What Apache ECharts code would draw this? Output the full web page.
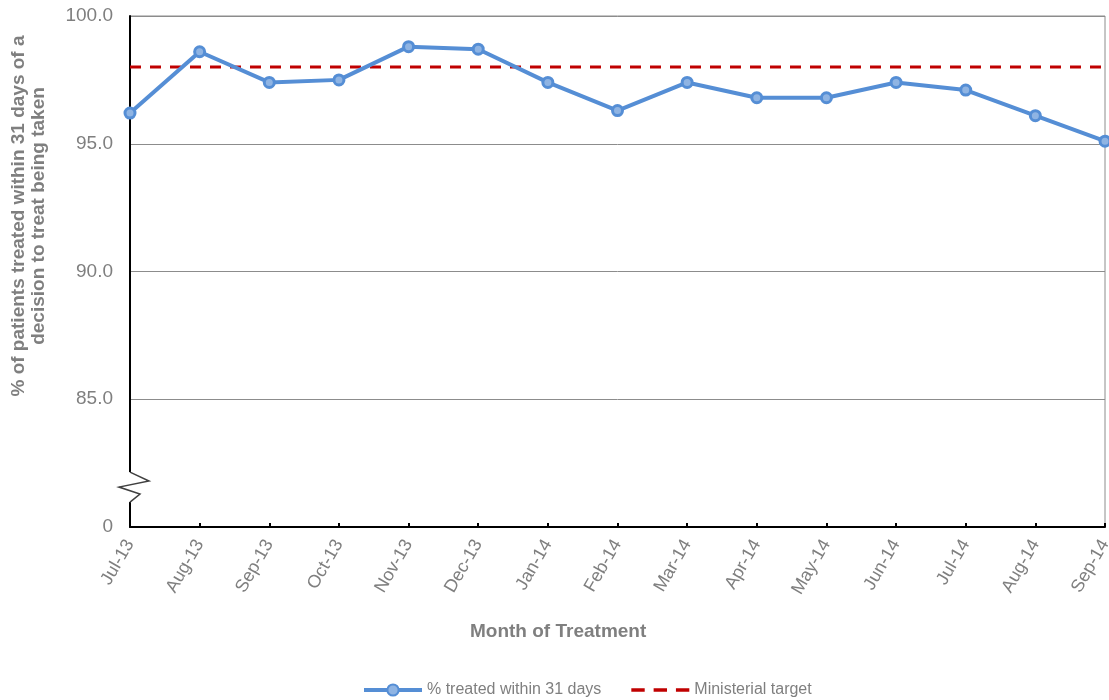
<!DOCTYPE html>
<html>
<head>
<meta charset="utf-8">
<script src="https://cdn.jsdelivr.net/npm/echarts@6/dist/echarts.min.js"></script>
<style>html,body{margin:0;padding:0;background:#fff;}#c{width:1109px;height:700px;}</style>
</head>
<body>
<div id="c"></div>
<script>
const months = ['Jul-13','Aug-13','Sep-13','Oct-13','Nov-13','Dec-13','Jan-14','Feb-14','Mar-14','Apr-14','May-14','Jun-14','Jul-14','Aug-14','Sep-14'];
const treated = [96.2, 98.6, 97.4, 97.5, 98.8, 98.7, 97.4, 96.3, 97.4, 96.8, 96.8, 97.4, 97.1, 96.1, 95.1];
const target = [98, 98, 98, 98, 98, 98, 98, 98, 98, 98, 98, 98, 98, 98, 98];
const yMin = 80, yMax = 100, yStep = 5;
const FONT = '"Liberation Sans", Arial, sans-serif';
const GRAY = '#7f7f7f';

const chart = echarts.init(document.getElementById('c'));
chart.setOption({
  animation: false,
  backgroundColor: '#fff',
  grid: {left: 130, right: 4, top: 16, bottom: 173, show: true, borderColor: '#8c8c8c', borderWidth: 1,
    containLabel: false, outerBoundsMode: 'none'},
  legend: {
    top: 682, left: 362, padding: 0, itemGap: 30, itemWidth: 58, itemHeight: 14,
    textStyle: {color: GRAY, fontFamily: FONT, fontSize: 16},
    data: [
      {name: '% treated within 31 days', lineStyle: {width: 4, color: '#558ed5'}},
      {name: 'Ministerial target', icon: 'path://M0,0h12v3h-12z M20,0h12v3h-12z M40,0h12v3h-12z', itemStyle: {color: '#c00000'}}
    ]
  },
  xAxis: {
    type: 'category', data: months, boundaryGap: false,
    axisLine: {lineStyle: {color: '#000', width: 2}},
    axisTick: {inside: true, length: 4, lineStyle: {color: '#000', width: 2}},
    axisLabel: {rotate: 60, color: GRAY, fontFamily: FONT, fontSize: 18, margin: 14, interval: 0},
    splitLine: {show: false}
  },
  yAxis: {
    type: 'value', min: yMin, max: yMax, interval: yStep,
    axisLine: {show: true, lineStyle: {color: '#000', width: 2}},
    axisTick: {show: false},
    axisLabel: {color: GRAY, fontFamily: FONT, fontSize: 19, margin: 17,
      formatter: v => v === yMin ? '0' : v.toFixed(1)},
    splitLine: {lineStyle: {color: '#8c8c8c', width: 1}}
  },
  series: [
    {name: '% treated within 31 days', type: 'line', data: treated,
      symbol: 'circle', symbolSize: 10,
      lineStyle: {color: '#558ed5', width: 4},
      itemStyle: {color: '#8fb4e3', borderColor: '#558ed5', borderWidth: 3},
      z: 3},
    {name: 'Ministerial target', type: 'line', data: target,
      symbol: 'none', showSymbol: false,
      lineStyle: {color: '#c00000', width: 3, type: [11, 9]},
      itemStyle: {color: '#c00000'},
      z: 2}
  ]
});

const x0 = chart.convertToPixel({xAxisIndex: 0}, 0);
const yT = chart.convertToPixel({yAxisIndex: 0}, 82.15);
chart.setOption({
  graphic: [
    {type: 'text', left: 470, top: 622,
      style: {text: 'Month of Treatment', fill: GRAY, font: 'bold 19px ' + FONT}},
    {type: 'text', x: 29, y: 216, rotation: Math.PI / 2,
      style: {text: '% of patients treated within 31 days of a\ndecision to treat being taken',
        fill: GRAY, font: 'bold 19px ' + FONT, align: 'center', verticalAlign: 'middle', lineHeight: 20}},
    {type: 'rect', shape: {x: x0 - 2, y: yT, width: 4, height: 30}, style: {fill: '#fff'}, z: 100},
    {type: 'polyline', z: 101,
      shape: {points: [[x0, yT], [x0 + 19, yT + 9], [x0 - 11, yT + 15], [x0 + 10, yT + 22], [x0, yT + 30]]},
      style: {stroke: '#404040', lineWidth: 1.5, fill: null}}
  ]
});
</script>
</body>
</html>
